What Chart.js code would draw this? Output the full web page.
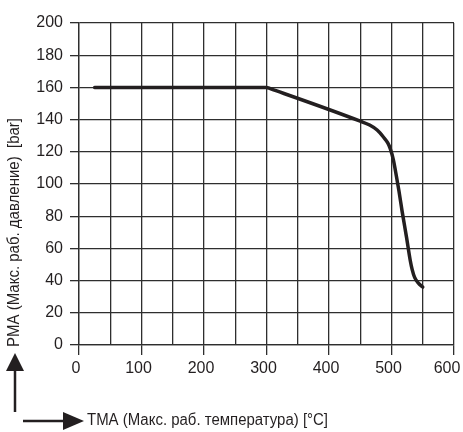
<!DOCTYPE html>
<html>
<head>
<meta charset="utf-8">
<script src="https://cdn.jsdelivr.net/npm/chart.js@4"></script>
<style>
  html, body { margin: 0; padding: 0; background: #fff; }
  canvas { display: block; }
</style>
</head>
<body>
<canvas id="grafico" width="463" height="432"></canvas>
<script>
// Datos (temperatura en °C, presion en bar)
const temperaturas = [25, 300, 306, 450, 465, 477, 487, 494, 498, 503, 508, 512, 517, 524, 530, 533, 537, 543, 550];
const presiones = [160, 160, 159.2, 139, 136.6, 133.5, 129.2, 125.5, 122, 115, 104.5, 95.5, 83, 67, 52.5, 47, 42, 38.4, 36];

const tituloX = "TMA (Макс. раб. температура) [°C]";
const tituloY = "PMA (Макс. раб. давление)  [bar]";

const tinta = "#231f20";
const rejilla = "#2e2e2e";
const fuente = '"Liberation Sans", Arial, sans-serif';

// Texto ajustado a un ancho dado
function textoAjustado(ctx, texto, ancho) {
  ctx.font = '16px "Liberation Sans Narrow", ' + fuente;
  const w = ctx.measureText(texto).width;
  ctx.scale(ancho / w, 1);
  ctx.fillText(texto, 0, 0);
}

// Titulos y flechas de los ejes
const ejesPlugin = {
  id: "ejes",
  afterDraw(chart) {
    const ctx = chart.ctx;
    ctx.save();
    ctx.fillStyle = tinta;
    ctx.strokeStyle = tinta;
    ctx.textBaseline = "middle";
    ctx.textAlign = "left";

    ctx.save();
    ctx.translate(87, 421);
    textoAjustado(ctx, tituloX, 241);
    ctx.restore();

    ctx.save();
    ctx.translate(15, 347);
    ctx.rotate(-Math.PI / 2);
    textoAjustado(ctx, tituloY, 229);
    ctx.restore();

    // flecha vertical
    ctx.lineWidth = 2.5;
    ctx.beginPath();
    ctx.moveTo(15, 412);
    ctx.lineTo(15, 368);
    ctx.stroke();
    ctx.beginPath();
    ctx.moveTo(15, 353);
    ctx.lineTo(24, 371);
    ctx.lineTo(6, 371);
    ctx.closePath();
    ctx.fill();

    // flecha horizontal
    ctx.beginPath();
    ctx.moveTo(23, 421);
    ctx.lineTo(66, 421);
    ctx.stroke();
    ctx.beginPath();
    ctx.moveTo(84, 421);
    ctx.lineTo(63, 412);
    ctx.lineTo(63, 430);
    ctx.closePath();
    ctx.fill();
    ctx.restore();
  }
};

new Chart(document.getElementById("grafico"), {
  type: "line",
  data: {
    datasets: [{
      data: temperaturas.map((t, i) => ({ x: t, y: presiones[i] })),
      borderColor: tinta,
      borderWidth: 3.5,
      pointRadius: 0,
      cubicInterpolationMode: "monotone",
      borderCapStyle: "round",
      borderJoinStyle: "round",
      fill: false
    }]
  },
  options: {
    responsive: false,
    animation: false,
    devicePixelRatio: 1,
    layout: { padding: { top: 23, right: 9, left: 0, bottom: 0 } },
    plugins: {
      legend: { display: false },
      tooltip: { enabled: false }
    },
    scales: {
      x: {
        type: "linear",
        min: 0,
        max: 600,
        ticks: {
          stepSize: 50,
          autoSkip: false,
          maxRotation: 0,
          padding: 4,
          labelOffset: -3,
          color: tinta,
          font: { family: fuente, size: 16 },
          // el ultimo rotulo va corrido a la izquierda como en el original
          callback: v => (v % 100 !== 0 ? "" : v === 600 ? v + "\u2002" : v)
        },
        grid: {
          color: rejilla,
          lineWidth: 1.3,
          tickLength: 10,
          tickColor: c => (c.tick && c.tick.value % 100 === 0 ? rejilla : "rgba(0,0,0,0)")
        },
        border: { color: rejilla, width: 1.3 },
        afterFit(scale) {
          scale.height = 87;
          scale.paddingLeft = 0;
          scale.paddingRight = 0;
        }
      },
      y: {
        min: 0,
        max: 200,
        ticks: {
          stepSize: 20,
          padding: 7,
          color: tinta,
          font: { family: fuente, size: 16 }
        },
        grid: {
          color: rejilla,
          lineWidth: 1.3,
          tickLength: 9
        },
        border: { color: rejilla, width: 1.3 },
        afterFit(scale) {
          scale.width = 79;
          scale.paddingTop = 0;
          scale.paddingBottom = 0;
        }
      }
    }
  },
  plugins: [ejesPlugin]
});
</script>
</body>
</html>
